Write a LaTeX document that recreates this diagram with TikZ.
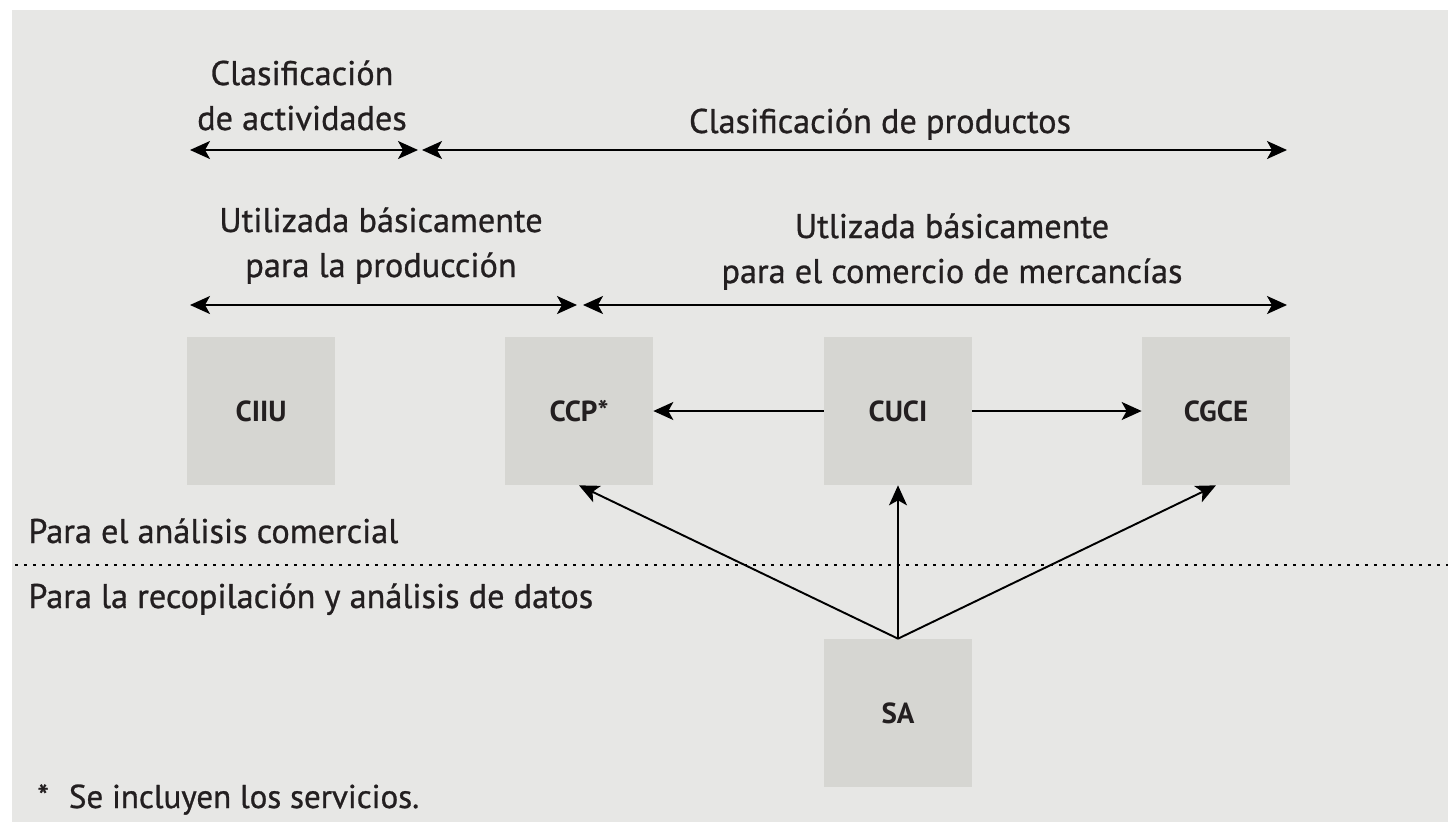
\documentclass[tikz,border=0pt]{standalone}
\usepackage{fontspec}
\setmainfont{PT Sans}[FakeBold=0.8]
\newfontfamily\boxfont{PT Sans}
\usetikzlibrary{arrows.meta}
\definecolor{panelgray}{RGB}{231,231,229}
\definecolor{boxgray}{RGB}{214,214,210}
\definecolor{inkgray}{RGB}{35,31,32}
\tikzset{clsbox/.style={fill=boxgray, minimum size=2.96cm, inner sep=0pt, text=inkgray,
    font=\boxfont\bfseries\fontsize{16.5}{19}\selectfont},
  lbl/.style={inner sep=0pt, text=inkgray, align=center, font=\fontsize{19.5}{25.6}\selectfont},
  rangearrow/.style={{Stealth[length=0.4cm,width=0.36cm,inset=0.1cm]}-{Stealth[length=0.4cm,width=0.36cm,inset=0.1cm]}, line width=1.1pt},
  feedarrow/.style={-{Stealth[length=0.4cm,width=0.36cm,inset=0.1cm]}, line width=1.1pt}}

\begin{document}
\begin{tikzpicture}[x=0.02cm,y=-0.02cm]
\useasboundingbox (0,0) rectangle (1448,822);
\fill[white] (0,0) rectangle (1448,822);
\fill[panelgray] (12,10) rectangle (1448,822);

\node[lbl, anchor=base] (actividades) at (302,130) {Clasificación\\de actividades};
\node[lbl, anchor=base] (productos) at (880,133) {Clasificación de productos};
\node[lbl, anchor=base] (produccion) at (381,277) {Utilizada básicamente\\para la producción};
\node[lbl, anchor=base] (mercancias) at (952,283) {Utlizada básicamente\\para el comercio de mercancías};

\coordinate (act-l) at (190,150);
\coordinate (act-r) at (418,150);
\coordinate (prod-l) at (422,150);
\coordinate (prod-r) at (1287,150);
\coordinate (use-l) at (190,305);
\coordinate (use-m) at (577,305);
\coordinate (trade-l) at (583,305);
\coordinate (trade-r) at (1287,305);
\draw[rangearrow] (act-l) -- (act-r);
\draw[rangearrow] (prod-l) -- (prod-r);
\draw[rangearrow] (use-l) -- (use-m);
\draw[rangearrow] (trade-l) -- (trade-r);

\node[clsbox] (ciiu) at (261,411) {CIIU};
\node[clsbox] (ccp) at (579,411) {CCP*};
\node[clsbox] (cuci) at (898,411) {CUCI};
\node[clsbox] (cgce) at (1216,411) {CGCE};
\node[clsbox] (sa) at (898,713) {SA};

\draw[feedarrow] (cuci.west) -- (ccp.east);
\draw[feedarrow] (cuci.east) -- (cgce.west);
\draw[feedarrow] (sa.north) -- (ccp.south);
\draw[feedarrow] (sa.north) -- (cuci.south);
\draw[feedarrow] (sa.north) -- (cgce.south);

\node[lbl, anchor=base west] (comercial) at (28,543) {Para el análisis comercial};
\node[lbl, anchor=base west] (datos) at (28,608) {Para la recopilación y análisis de datos};
\coordinate (sep-l) at (15,565);
\coordinate (sep-r) at (1448,565);
\draw[line width=0.9pt, dash pattern=on 0.07cm off 0.11cm] (sep-l) -- (sep-r);

\node[lbl, anchor=base west, font=\fontsize{18.8}{22}\selectfont] (nota) at (37,808) {*\hspace{0.4cm}Se incluyen los servicios.};
\end{tikzpicture}
\end{document}
